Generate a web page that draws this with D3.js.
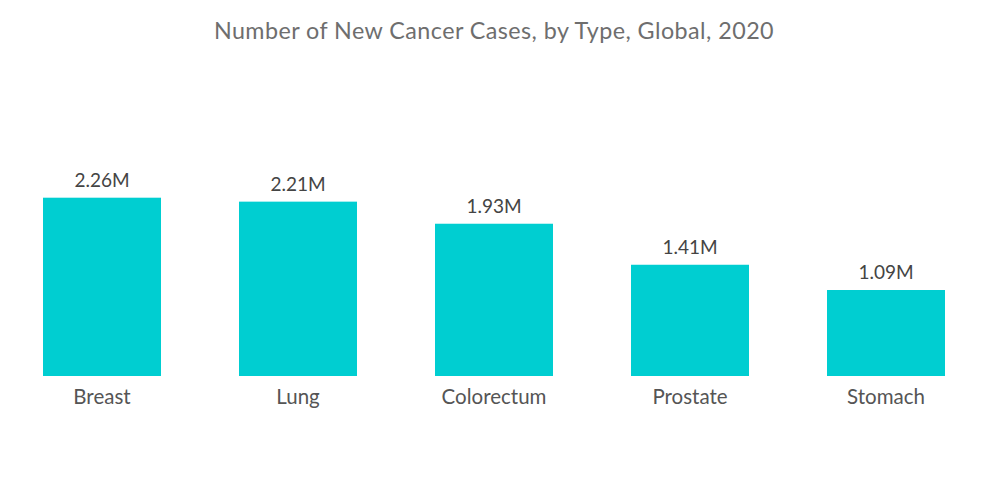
<!DOCTYPE html>
<html>
<head>
<meta charset="utf-8">
<script src="https://cdn.jsdelivr.net/npm/d3@7"></script>
<style>
  body { margin: 0; background: #fff; }
  svg text { font-family: Lato, "Open Sans", sans-serif; }
</style>
</head>
<body>
<div id="chart"></div>
<script>
// datos
const categories = ["Breast", "Lung", "Colorectum", "Prostate", "Stomach"];
const cases = [2.26, 2.21, 1.93, 1.41, 1.09]; // millones
const valueLabels = ["2.26M", "2.21M", "1.93M", "1.41M", "1.09M"];

const width = 1000;
const height = 504;
const baseline = 376;

const svg = d3
  .select("#chart")
  .append("svg")
  .attr("width", width)
  .attr("height", height);

svg.append("text")
  .attr("x", 494)
  .attr("y", 39)
  .attr("text-anchor", "middle")
  .attr("font-size", 23.3)
  .attr("letter-spacing", 0.45)
  .attr("fill", "#6e6e6e")
  .text("Number of New Cancer Cases, by Type, Global, 2020");

const x = d3
  .scaleBand()
  .domain(categories)
  .range([4, 984])
  .paddingInner(0.398)
  .paddingOuter(0.199);

const y = d3.scaleLinear().domain([0, 2.26]).range([baseline, 197.7]);

const data = categories.map((c, i) => ({ cat: c, val: cases[i], label: valueLabels[i] }));

svg.selectAll("rect.bar")
  .data(data)
  .enter()
  .append("rect")
  .attr("class", "bar")
  .attr("x", (d) => x(d.cat))
  .attr("y", (d) => y(d.val))
  .attr("width", x.bandwidth())
  .attr("height", (d) => baseline - y(d.val))
  .attr("fill", "#00ced1");

// etiquetas de valor
svg.selectAll("text.val")
  .data(data)
  .enter()
  .append("text")
  .attr("class", "val")
  .attr("x", (d) => x(d.cat) + x.bandwidth() / 2)
  .attr("y", (d) => y(d.val) - 11)
  .attr("text-anchor", "middle")
  .attr("font-size", 19)
  .attr("fill", "#444")
  .text((d) => d.label);

// eje x (solo etiquetas)
const xAxis = svg.append("g")
  .attr("transform", `translate(0,${baseline})`)
  .call(d3.axisBottom(x).tickSize(0).tickPadding(13));
xAxis.select(".domain").remove();
xAxis.selectAll("text")
  .attr("font-size", 20.5)
  .attr("fill", "#555")
  .style("font-family", "Lato, 'Open Sans', sans-serif");
</script>
</body>
</html>
